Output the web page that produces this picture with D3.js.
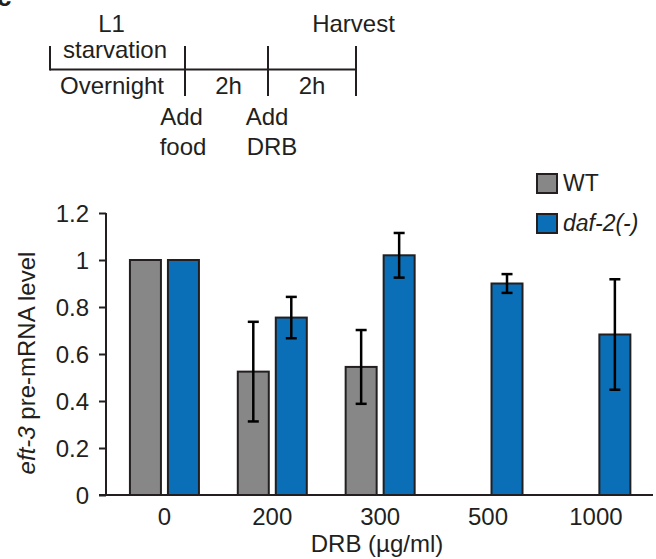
<!DOCTYPE html>
<html>
<head>
<meta charset="utf-8">
<script src="https://cdn.jsdelivr.net/npm/d3@7"></script>
<style>
  html, body { margin: 0; padding: 0; background: #fff; }
  svg text { font-family: "Liberation Sans", Arial, Helvetica, sans-serif; fill: #231f20; }
</style>
</head>
<body>
<svg id="chart" width="656" height="559"></svg>
<script>
// DRB concentrations (µg/ml)
const doses = ["0", "200", "300", "500", "1000"];
const seriesNames = ["WT", "daf-2(-)"];
// relative eft-3 pre-mRNA level, null = not measured
const wtMean  = [1.0, 0.525, 0.545, null, null];
const wtErr   = [0, 0.212, 0.157, null, null];
const dafMean = [1.0, 0.755, 1.02, 0.90, 0.683];
const dafErr  = [0, 0.088, 0.095, 0.04, 0.235];
const yTicks  = [0, 0.2, 0.4, 0.6, 0.8, 1, 1.2];

const colors = { "WT": "#878787", "daf-2(-)": "#0b6fb8" };
const ink = "#231f20";
const fs = 24;

const svg = d3.select("#chart");

// ---- timeline schematic ----
const tl = svg.append("g");
const tlY = 69.5;
const tlX = d3.scaleLinear().domain([0, 1, 2, 3]).range([50, 185, 268, 356]);
tl.append("line").attr("x1", tlX(0)).attr("x2", tlX(3)).attr("y1", tlY).attr("y2", tlY)
  .attr("stroke", ink).attr("stroke-width", 2);
[0, 1, 2, 3].forEach(i => {
  tl.append("line").attr("x1", tlX(i)).attr("x2", tlX(i))
    .attr("y1", 46).attr("y2", i === 0 ? tlY + 1 : 96)
    .attr("stroke", ink).attr("stroke-width", 2);
});
const tlText = [
  ["L1", 111.5, 32], ["starvation", 115, 58], ["Overnight", 112, 94],
  ["2h", 228.5, 94], ["2h", 312, 94], ["Harvest", 353.5, 32],
  ["Add", 181.5, 125], ["food", 183, 155], ["Add", 267, 125], ["DRB", 272, 155]
];
tl.selectAll("text.tl").data(tlText).join("text").attr("class", "tl")
  .attr("x", d => d[1]).attr("y", d => d[2])
  .attr("text-anchor", "middle").attr("font-size", fs).text(d => d[0]);

// panel letter, clipped at the corner
svg.append("text").attr("x", -3).attr("y", 6).attr("font-size", 26)
  .attr("font-weight", "bold").text("c");

// ---- bar chart ----
const x = d3.scaleBand().domain(doses).range([110.5, 649.8]).paddingInner(0).paddingOuter(0);
const y = d3.scaleLinear().domain([0, 1.2]).range([495, 213]);
const barW = 31, offset = 19;

const yAxis = svg.append("g").attr("transform", "translate(106,0)")
  .call(d3.axisLeft(y).tickValues(yTicks).tickSize(7).tickPadding(10)
    .tickFormat(d => d3.format("~g")(d)));
yAxis.select(".domain").attr("stroke", ink).attr("stroke-width", 2).attr("d", "M0,495V213");
yAxis.selectAll(".tick line").attr("stroke", ink).attr("stroke-width", 2);
yAxis.selectAll(".tick text").attr("font-size", fs).attr("fill", ink)
  .attr("font-family", "Liberation Sans, Arial, sans-serif").attr("dy", "0.36em");

const series = [
  { name: "WT", mean: wtMean, err: wtErr, dx: -offset },
  { name: "daf-2(-)", mean: dafMean, err: dafErr, dx: offset }
];
const bars = [];
series.forEach(s => doses.forEach((d, i) => {
  if (s.mean[i] != null) bars.push({ name: s.name, dose: d, v: s.mean[i], e: s.err[i], dx: s.dx });
}));

const cx = b => x(b.dose) + x.bandwidth() / 2 + b.dx;

svg.append("g").selectAll("rect").data(bars).join("rect")
  .attr("x", b => cx(b) - barW / 2).attr("width", barW)
  .attr("y", b => y(b.v)).attr("height", b => y(0) - y(b.v))
  .attr("fill", b => colors[b.name]).attr("stroke", ink).attr("stroke-width", 2);

// error bars
const eb = svg.append("g").attr("stroke", "#000").attr("stroke-width", 2.5);
bars.filter(b => b.e > 0).forEach(b => {
  const c = cx(b);
  eb.append("line").attr("x1", c).attr("x2", c).attr("y1", y(b.v + b.e)).attr("y2", y(b.v - b.e));
  [b.v + b.e, b.v - b.e].forEach(v => eb.append("line")
    .attr("x1", c - 5.5).attr("x2", c + 5.5).attr("y1", y(v)).attr("y2", y(v)));
});

// x axis baseline
const xAxis = svg.append("g").attr("transform", "translate(0,495)")
  .call(d3.axisBottom(x).tickSize(0));
xAxis.select(".domain").attr("stroke", ink).attr("stroke-width", 2).attr("d", "M99,0H653");
xAxis.selectAll(".tick text").attr("font-size", fs).attr("fill", ink)
  .attr("font-family", "Liberation Sans, Arial, sans-serif").attr("y", 30).attr("dy", 0);

// axis titles
svg.append("text").attr("x", 377).attr("y", 552).attr("text-anchor", "middle")
  .attr("font-size", fs).text("DRB (µg/ml)");
const yt = svg.append("text").attr("transform", "translate(35,363) rotate(-90)")
  .attr("text-anchor", "middle").attr("font-size", fs);
yt.append("tspan").attr("font-style", "italic").text("eft-3");
yt.append("tspan").text(" pre-mRNA level");

// legend
const lg = svg.append("g").selectAll("g").data(seriesNames).join("g")
  .attr("transform", (d, i) => `translate(537,${174 + i * 40})`);
lg.append("rect").attr("width", 20).attr("height", 19)
  .attr("fill", d => colors[d]).attr("stroke", ink).attr("stroke-width", 2);
lg.append("text").attr("x", 26).attr("y", 17).attr("font-size", 23)
  .attr("font-style", d => d === "WT" ? "normal" : "italic").text(d => d);
</script>
</body>
</html>
